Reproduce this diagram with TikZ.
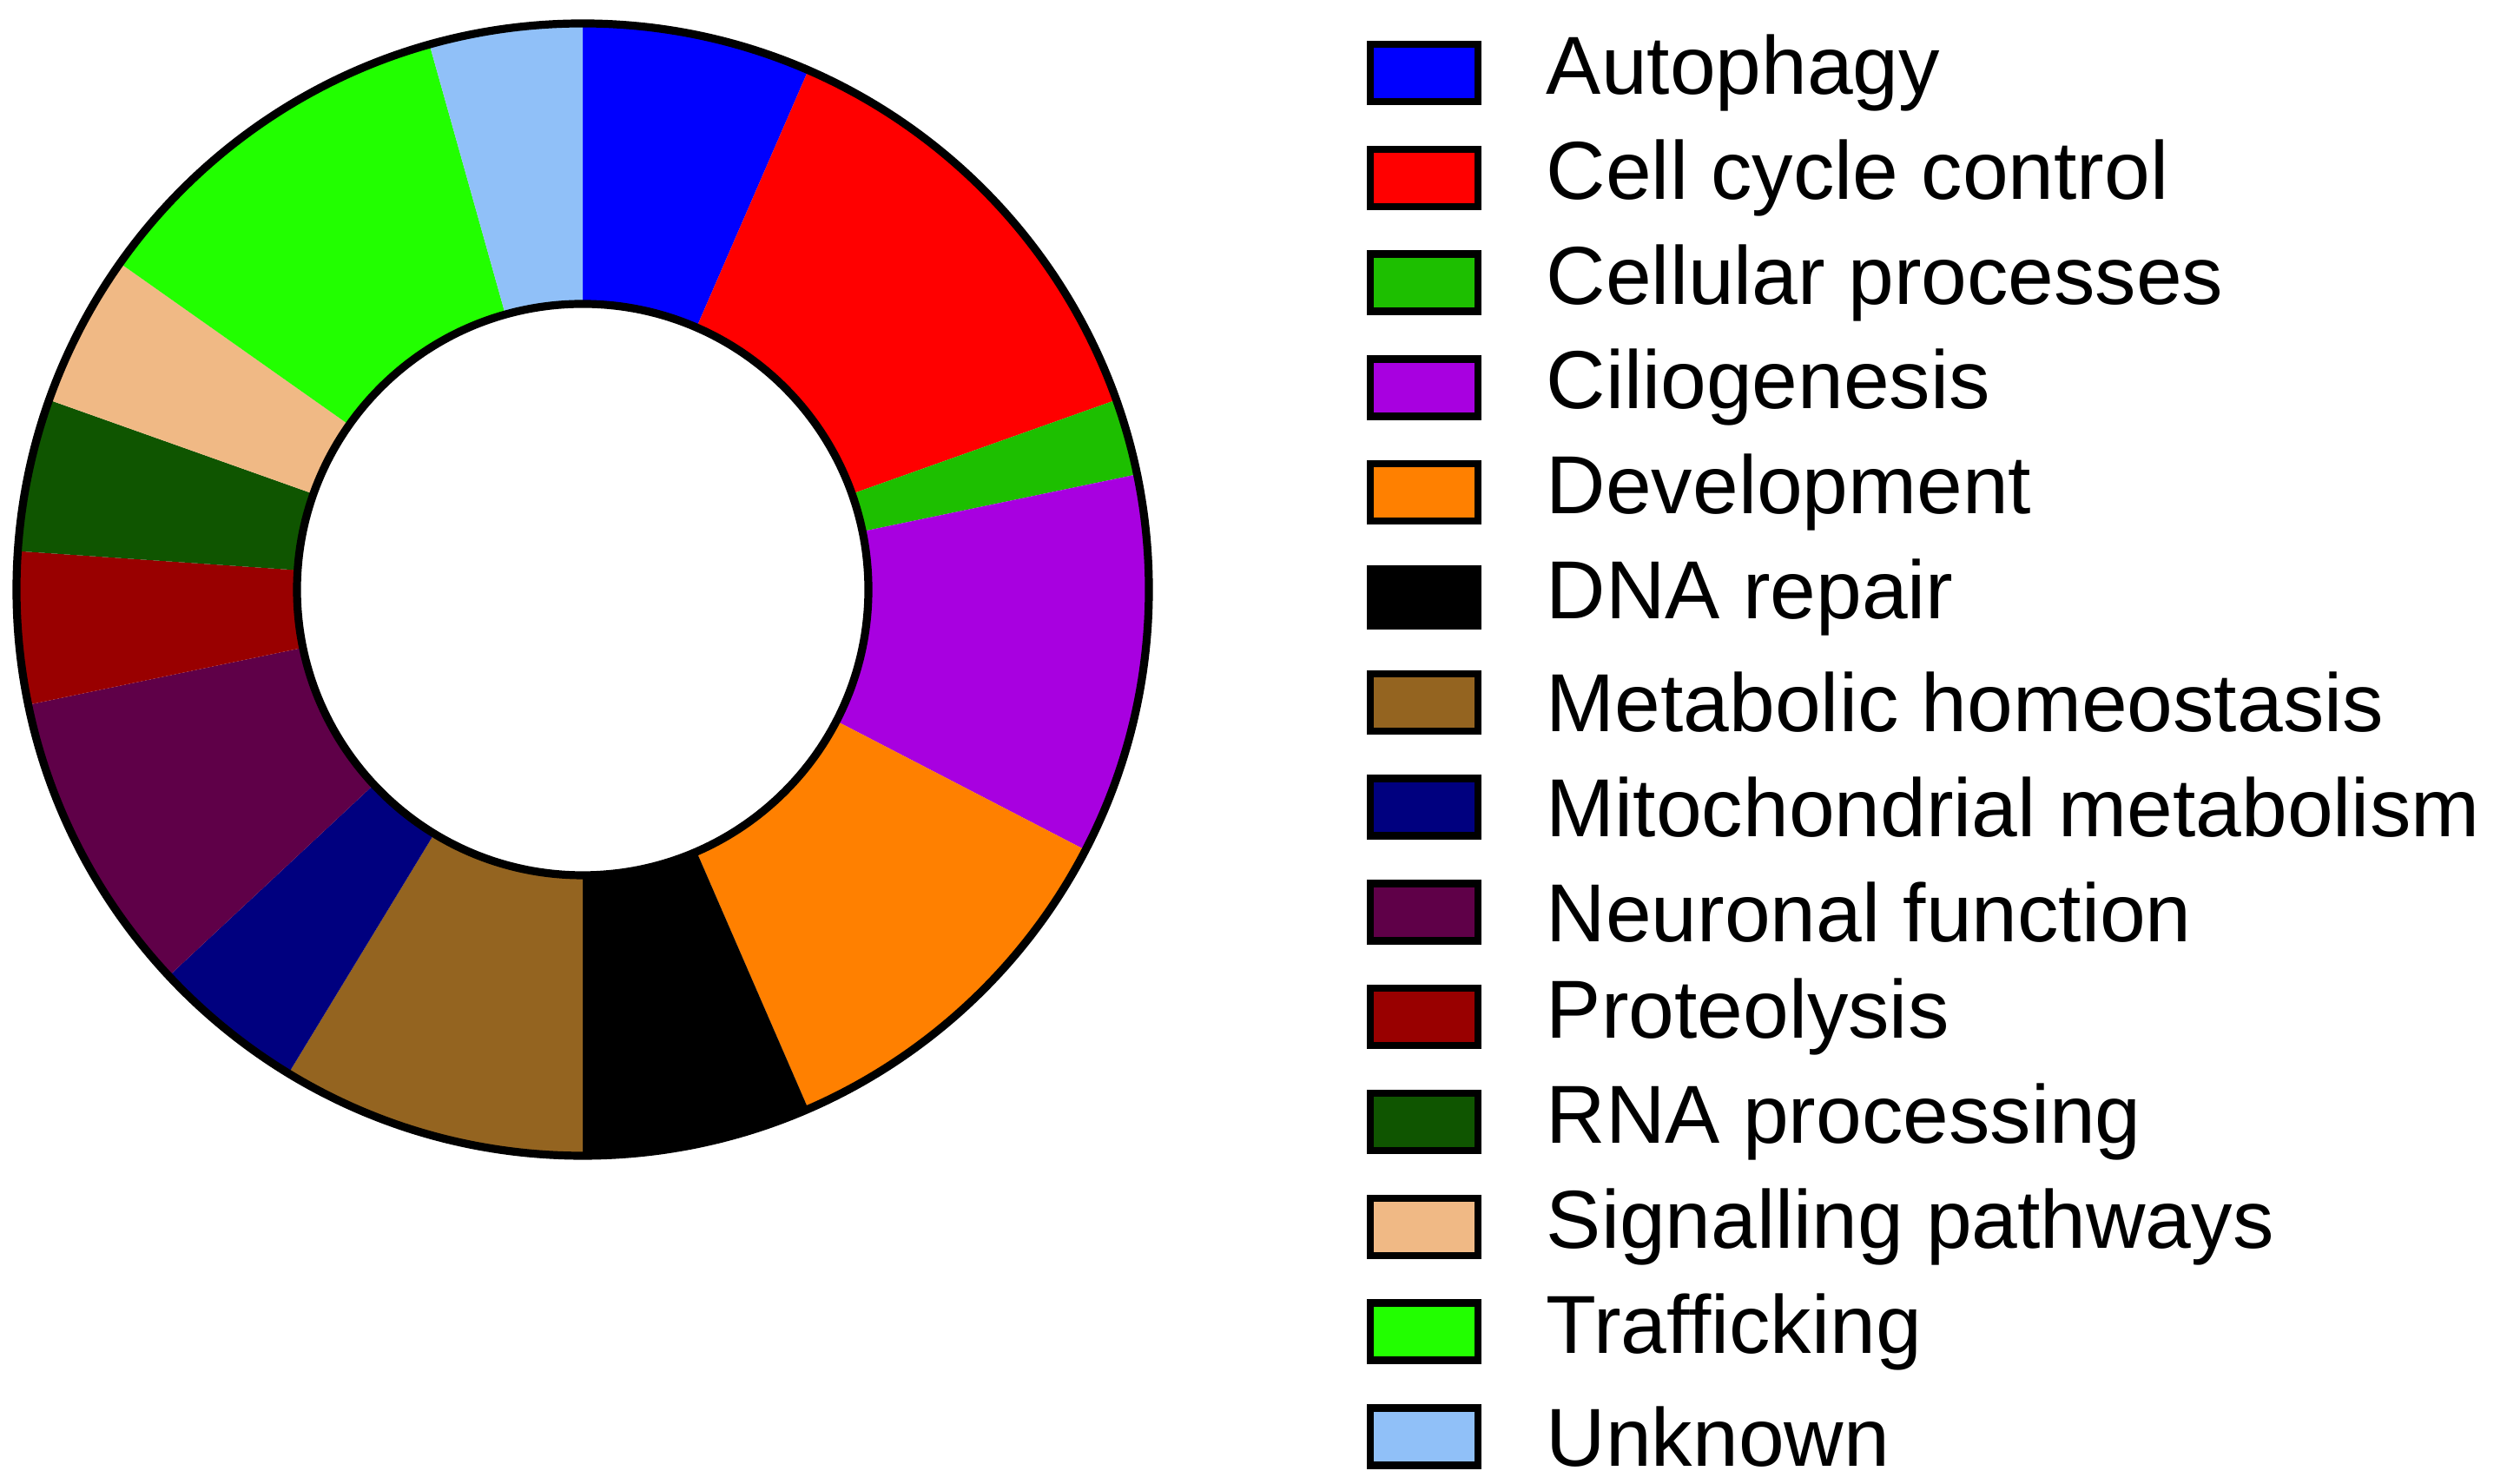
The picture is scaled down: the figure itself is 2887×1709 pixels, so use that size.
\documentclass[tikz,border=0pt]{standalone}
\usepackage{fontspec}
\setmainfont{Liberation Sans}
\definecolor{cA}{HTML}{0000FF}
\definecolor{cB}{HTML}{FF0000}
\definecolor{cC}{HTML}{1DBF00}
\definecolor{cD}{HTML}{A800E0}
\definecolor{cE}{HTML}{FF8000}
\definecolor{cF}{HTML}{000000}
\definecolor{cG}{HTML}{946420}
\definecolor{cH}{HTML}{00007F}
\definecolor{cI}{HTML}{5F0048}
\definecolor{cJ}{HTML}{990000}
\definecolor{cK}{HTML}{0F5500}
\definecolor{cL}{HTML}{F0B985}
\definecolor{cM}{HTML}{22FF00}
\definecolor{cN}{HTML}{90C0F8}
\begin{document}
\begin{tikzpicture}[x=0.25pt,y=0.25pt,
  legbox/.style={draw=black,line width=2.1pt,minimum width=31pt,minimum height=16.5pt,inner sep=0pt},
  legtext/.style={anchor=west,font=\fontsize{23.7}{26}\selectfont,inner sep=0pt}]
\useasboundingbox (0,0) rectangle (2887,1709);
\begin{scope}[shift={(671,1030)}]
\foreach \a/\b/\c in {90/66.52/cA,66.52/19.57/cB,19.57/11.74/cC,11.74/-27.39/cD,-27.39/-66.52/cE,-66.52/-90/cF,-90/-121.3/cG,-121.3/-136.96/cH,-136.96/-168.26/cI,-168.26/-183.9/cJ,-183.9/-199.57/cK,-199.57/-215.2/cL,-215.2/-254.3/cM,-254.3/-270/cN}{
  \fill[\c] (\a:163pt) arc[start angle=\a,end angle=\b,radius=163pt] -- (\b:82.25pt) arc[start angle=\b,end angle=\a,radius=82.25pt] -- cycle;
}
\draw[line width=2.3pt] (0,0) circle[radius=163pt];
\draw[line width=2.3pt] (0,0) circle[radius=82.25pt];
\end{scope}
\foreach \i/\c/\t in {0/cA/Autophagy,1/cB/Cell cycle control,2/cC/Cellular processes,3/cD/Ciliogenesis,4/cE/Development,5/cF/DNA repair,6/cG/Metabolic homeostasis,7/cH/Mitochondrial metabolism,8/cI/Neuronal function,9/cJ/Proteolysis,10/cK/RNA processing,11/cL/Signalling pathways,12/cM/Trafficking,13/cN/Unknown}{
  \node[legbox,fill=\c] (box\i) at (1640,1625-120.8*\i) {};
  \node[legtext] (lab\i) at (1780,1625-120.8*\i) {\t};
}
\end{tikzpicture}
\end{document}
